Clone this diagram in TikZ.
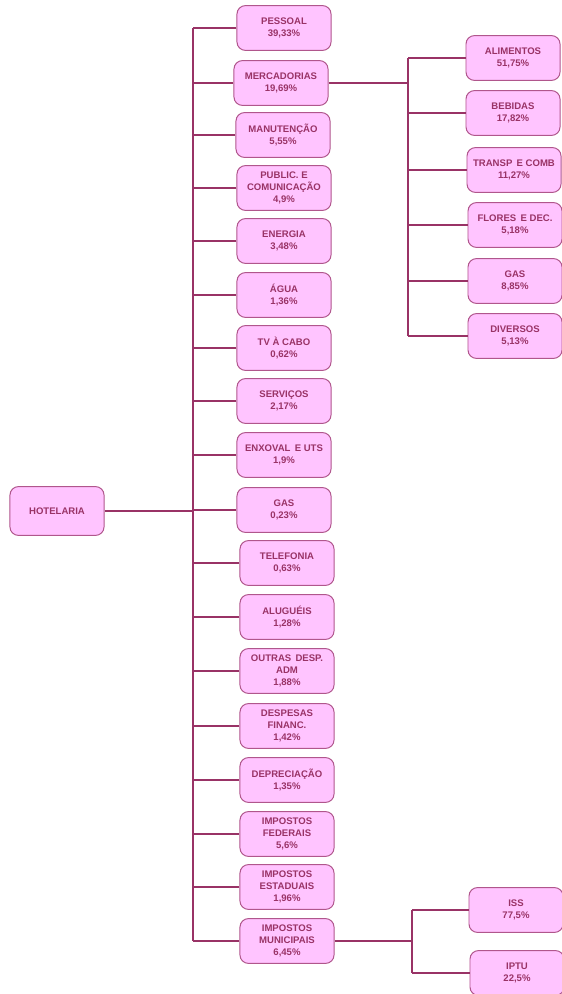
\documentclass[tikz,border=0pt]{standalone}
\usepackage{fontspec}
\setmainfont{Liberation Sans}
\usepackage{xcolor}
\usetikzlibrary{positioning}
\definecolor{rosa}{HTML}{FFC4FF}
\definecolor{vinho}{HTML}{993366}
\definecolor{bordarosa}{HTML}{B0568C}
\tikzset{
  conta/.style={draw=bordarosa, fill=rosa, text=vinho, line width=0.7pt, rounded corners=6pt,
                minimum width=2.35cm, minimum height=1.12cm, inner sep=1pt,
                font=\fontsize{6.8}{8.4}\selectfont\bfseries, align=center},
  ramo/.style={draw=vinho, line width=1.4pt},
}

\begin{document}
\begin{tikzpicture}[x=0.025cm, y=-0.025cm]
  \useasboundingbox (0,0) rectangle (561,994);
  % raiz
  \node[conta, minimum height=1.22cm] (hotel) at (57,511) {HOTELARIA};
  % primeiro nivel
  \node[conta] (pessoal) at (284,28) {PESSOAL\\39,33\%};
  \node[conta] (merc) at (281,83) {MERCADORIAS\\19,69\%};
  \node[conta] (manut) at (283,135) {MANUTENÇÃO\\5,55\%};
  \node[conta] (public) at (284,188) {PUBLIC. E\\COMUNICAÇÃO\\4,9\%};
  \node[conta] (energia) at (284,241) {ENERGIA\\3,48\%};
  \node[conta] (agua) at (284,295) {ÁGUA\\1,36\%};
  \node[conta] (tv) at (284,348) {TV À CABO\\0,62\%};
  \node[conta] (servicos) at (284,401) {SERVIÇOS\\2,17\%};
  \node[conta] (enxoval) at (284,455) {ENXOVAL\, E UTS\\1,9\%};
  \node[conta] (gas) at (284,510) {GAS\\0,23\%};
  \node[conta] (telef) at (287,563) {TELEFONIA\\0,63\%};
  \node[conta] (alug) at (287,617) {ALUGUÉIS\\1,28\%};
  \node[conta] (outras) at (287,671) {OUTRAS\, DESP.\\ADM\\1,88\%};
  \node[conta] (despfin) at (287,726) {DESPESAS\\FINANC.\\1,42\%};
  \node[conta] (deprec) at (287,780) {DEPRECIAÇÃO\\1,35\%};
  \node[conta] (impfed) at (287,834) {IMPOSTOS\\FEDERAIS\\5,6\%};
  \node[conta] (impest) at (287,887) {IMPOSTOS\\ESTADUAIS\\1,96\%};
  \node[conta] (impmun) at (287,941) {IMPOSTOS\\MUNICIPAIS\\6,45\%};
  % mercadorias
  \node[conta] (alim) at (513,58) {ALIMENTOS\\51,75\%};
  \node[conta] (bebidas) at (513,113) {BEBIDAS\\17,82\%};
  \node[conta] (transp) at (514,170) {TRANSP\, E COMB\\11,27\%};
  \node[conta] (flores) at (515,225) {FLORES\, E DEC.\\5,18\%};
  \node[conta] (gasm) at (515,281) {GAS\\8,85\%};
  \node[conta] (diversos) at (515,336) {DIVERSOS\\5,13\%};
  % impostos municipais
  \node[conta] (iss) at (516,910) {ISS\\77,5\%};
  \node[conta] (iptu) at (517,973) {IPTU\\22,5\%};
  % troncos
  \coordinate (tronco) at (193,0);
  \coordinate (troncom) at (408,0);
  \coordinate (troncoi) at (412,0);
  \draw[ramo] (pessoal.west -| tronco) -- (impmun.west -| tronco);
  \draw[ramo] (hotel.east) -- (hotel.east -| tronco);
  \draw[ramo] (pessoal.west) -- (pessoal.west -| tronco); \draw[ramo] (merc.west) -- (merc.west -| tronco);
  \draw[ramo] (manut.west) -- (manut.west -| tronco); \draw[ramo] (public.west) -- (public.west -| tronco);
  \draw[ramo] (energia.west) -- (energia.west -| tronco); \draw[ramo] (agua.west) -- (agua.west -| tronco);
  \draw[ramo] (tv.west) -- (tv.west -| tronco); \draw[ramo] (servicos.west) -- (servicos.west -| tronco);
  \draw[ramo] (enxoval.west) -- (enxoval.west -| tronco); \draw[ramo] (gas.west) -- (gas.west -| tronco);
  \draw[ramo] (telef.west) -- (telef.west -| tronco); \draw[ramo] (alug.west) -- (alug.west -| tronco);
  \draw[ramo] (outras.west) -- (outras.west -| tronco); \draw[ramo] (despfin.west) -- (despfin.west -| tronco);
  \draw[ramo] (deprec.west) -- (deprec.west -| tronco); \draw[ramo] (impfed.west) -- (impfed.west -| tronco);
  \draw[ramo] (impest.west) -- (impest.west -| tronco); \draw[ramo] (impmun.west) -- (impmun.west -| tronco);
  % ramo mercadorias
  \draw[ramo] (merc.east) -- (merc.east -| troncom);
  \draw[ramo] (alim.west -| troncom) -- (diversos.west -| troncom);
  \draw[ramo] (alim.west) -- (alim.west -| troncom); \draw[ramo] (bebidas.west) -- (bebidas.west -| troncom);
  \draw[ramo] (transp.west) -- (transp.west -| troncom); \draw[ramo] (flores.west) -- (flores.west -| troncom);
  \draw[ramo] (gasm.west) -- (gasm.west -| troncom); \draw[ramo] (diversos.west) -- (diversos.west -| troncom);
  % ramo impostos municipais
  \draw[ramo] (impmun.east) -- (impmun.east -| troncoi);
  \draw[ramo] (iss.west -| troncoi) -- (iptu.west -| troncoi);
  \draw[ramo] (iss.west) -- (iss.west -| troncoi); \draw[ramo] (iptu.west) -- (iptu.west -| troncoi);
\end{tikzpicture}
\end{document}
